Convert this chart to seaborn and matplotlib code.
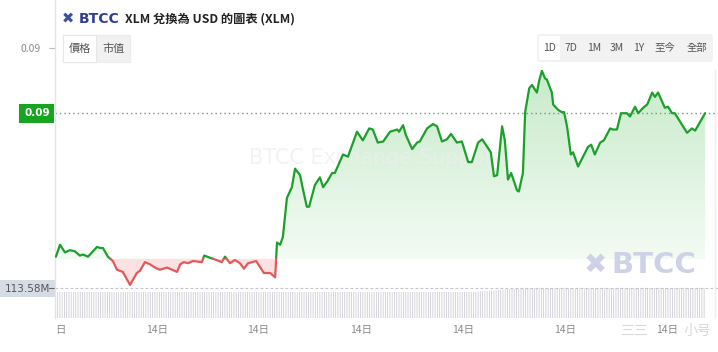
import numpy as np
import pandas as pd
import matplotlib
matplotlib.use("Agg")
import matplotlib.pyplot as plt
import seaborn as sns
from matplotlib.path import Path
from matplotlib.patches import FancyBboxPatch, Rectangle
import matplotlib.transforms as mtransforms
from matplotlib.colors import to_rgb

# ---------------- data ----------------
minutes = [2, 11, 22, 33, 44, 55, 62, 73, 84, 93, 100, 106, 117, 128, 137, 150, 166, 181, 188, 199,
           210, 221, 232, 248, 259, 270, 277, 285, 294, 305, 325, 330, 350, 369, 376, 387, 398, 409, 418, 427,
           445, 462, 476, 487, 491, 498, 504, 513, 524, 531, 542, 549, 557, 562, 575, 586, 593, 602, 613, 619,
           637, 648, 668, 681, 695, 703, 714, 726, 741, 757, 761, 770, 776, 790, 801, 807, 823, 836, 845, 856,
           867, 876, 889, 900, 914, 922, 936, 945, 953, 964, 971, 978, 989, 995, 1002, 1009, 1022, 1026, 1035, 1040,
           1049, 1055, 1066, 1071, 1077, 1084, 1088, 1099, 1102, 1113, 1121, 1126, 1133, 1141, 1146, 1157, 1168, 1179, 1186, 1194,
           1206, 1214, 1228, 1234, 1243, 1252, 1265, 1272, 1283, 1290, 1301, 1310, 1321, 1327, 1334, 1349, 1356, 1365, 1371, 1398,
           1409, 1416, 1427, 1438]
price = [0.08808, 0.08819, 0.08812, 0.08814, 0.08813, 0.08809, 0.08810, 0.08808, 0.08813, 0.08817,
         0.08816, 0.08816, 0.08808, 0.08804, 0.08796, 0.08794, 0.08782, 0.08793, 0.08795, 0.08803,
         0.08801, 0.08798, 0.08796, 0.08798, 0.08796, 0.08794, 0.08801, 0.08803, 0.08802, 0.08804,
         0.08803, 0.08809, 0.08806, 0.08803, 0.08808, 0.08802, 0.08805, 0.08802, 0.08797, 0.08802,
         0.08804, 0.08793, 0.08793, 0.08789, 0.08821, 0.08819, 0.08826, 0.08862, 0.08872, 0.08889,
         0.08883, 0.08869, 0.08854, 0.08854, 0.08874, 0.08881, 0.08872, 0.08877, 0.08885, 0.08885,
         0.08902, 0.08900, 0.08923, 0.08915, 0.08926, 0.08925, 0.08913, 0.08914, 0.08923, 0.08925,
         0.08923, 0.08929, 0.08920, 0.08907, 0.08913, 0.08914, 0.08926, 0.08930, 0.08928, 0.08914,
         0.08916, 0.08921, 0.08913, 0.08914, 0.08895, 0.08895, 0.08913, 0.08916, 0.08911, 0.08904,
         0.08882, 0.08883, 0.08928, 0.08915, 0.08879, 0.08885, 0.08869, 0.08868, 0.08885, 0.08941,
         0.08963, 0.08966, 0.08959, 0.08970, 0.08979, 0.08972, 0.08971, 0.08959, 0.08948, 0.08943,
         0.08941, 0.08941, 0.08927, 0.08902, 0.08904, 0.08891, 0.08900, 0.08909, 0.08911, 0.08902,
         0.08913, 0.08915, 0.08926, 0.08925, 0.08925, 0.08940, 0.08940, 0.08937, 0.08946, 0.08940,
         0.08945, 0.08948, 0.08959, 0.08955, 0.08959, 0.08945, 0.08946, 0.08940, 0.08940, 0.08922,
         0.08926, 0.08924, 0.08932, 0.08940]
open_price = 0.08806

volume_minutes = list(range(0, 1440, 5))
volume_m = [
    98.4, 98.4, 98.4, 98.4, 98.4, 98.4, 98.4, 98.4, 98.4, 98.4, 98.4, 98.4, 98.4, 98.4, 98.4, 98.4, 98.4, 98.4, 98.4, 98.4, 98.4, 98.4, 98.4, 98.4,
    98.4, 98.4, 98.4, 98.4, 98.4, 98.4, 98.4, 98.4, 98.4, 98.4, 98.4, 98.4, 98.4, 98.4, 98.4, 98.4, 98.4, 98.4, 98.4, 98.4, 98.4, 98.4, 98.4, 98.4,
    98.4, 98.4, 98.4, 98.4, 98.4, 98.4, 98.4, 98.4, 98.4, 98.4, 98.4, 98.4, 98.4, 98.4, 98.4, 98.4, 98.4, 98.4, 98.4, 98.4, 98.4, 98.4, 98.4, 98.4,
    98.4, 98.4, 98.4, 98.4, 98.4, 98.4, 98.4, 98.4, 98.4, 98.4, 98.4, 98.4, 98.4, 98.4, 98.4, 98.4, 98.4, 98.4, 98.4, 98.4, 98.4, 98.4, 98.4, 98.4,
    98.4, 98.4, 98.4, 98.4, 98.4, 98.4, 98.4, 98.4, 98.4, 98.4, 98.4, 98.4, 98.4, 98.4, 98.4, 98.4, 98.4, 98.4, 98.4, 98.4, 98.4, 98.4, 98.4, 98.4,
    98.4, 98.4, 98.4, 98.4, 98.4, 98.4, 98.4, 98.4, 98.4, 98.4, 98.4, 98.4, 98.4, 98.4, 98.4, 98.4, 98.4, 98.4, 98.4, 98.4, 98.4, 98.4, 98.4, 98.4,
    98.4, 98.4, 98.4, 98.4, 98.4, 98.4, 98.4, 98.4, 98.4, 98.4, 98.4, 98.4, 98.4, 98.4, 98.4, 98.4, 98.4, 98.4, 98.4, 98.4, 98.4, 98.4, 98.4, 98.4,
    98.4, 98.4, 98.4, 98.4, 98.4, 98.4, 98.4, 98.4, 98.4, 98.4, 98.4, 98.4, 98.4, 98.4, 98.4, 98.4, 98.6, 98.9, 99.3, 99.8, 100.4, 101.0, 101.7, 102.4,
    103.1, 103.9, 104.7, 105.5, 106.3, 107.0, 107.8, 108.5, 109.1, 109.7, 110.2, 110.6, 111.0, 111.3, 111.5, 111.7, 111.8, 111.9, 112.0, 112.0, 112.1, 112.1, 112.2, 112.2,
    112.2, 112.3, 112.3, 112.3, 112.4, 112.4, 112.4, 112.5, 112.5, 112.5, 112.6, 112.6, 112.6, 112.7, 112.7, 112.7, 112.8, 112.8, 112.8, 112.8, 112.9, 112.9, 112.9, 112.9,
    113.0, 113.0, 113.0, 113.0, 113.1, 113.1, 113.1, 113.1, 113.2, 113.2, 113.2, 113.2, 113.2, 113.3, 113.3, 113.3, 113.3, 113.3, 113.4, 113.4, 113.4, 113.4, 113.4, 113.4,
    113.4, 113.5, 113.5, 113.5, 113.5, 113.5, 113.5, 113.5, 113.5, 113.5, 113.5, 113.6, 113.6, 113.6, 113.6, 113.6, 113.6, 113.6, 113.6, 113.6, 113.6, 113.6, 113.6, 113.58,
]

tick_minutes = [11, 226, 449, 677, 903, 1128, 1354]
tick_labels = ["日", "14日", "14日", "14日", "14日", "14日", "14日"]
yaxis_tick = 0.09
yaxis_tick_label = "0.09"
last_price_label = "0.09"
last_volume_label = "113.58M"
title_text = "XLM 兌換為 USD 的圖表 (XLM)"
range_buttons = ["1D", "7D", "1M", "3M", "1Y", "至今", "全部"]
mode_buttons = ["價格", "市值"]

# ---------------- style ----------------
sns.set_style("white")
FONT = ['Noto Sans CJK TC', 'DejaVu Sans']
plt.rcParams['font.family'] = FONT

GREEN = "#1c9f2b"
RED = "#e05a5a"
W, H = 718, 352

fig = plt.figure(figsize=(W / 100, H / 100), dpi=100)
fig.patch.set_facecolor("white")


def fx(x):
    return x / W


def fy(y):
    return 1 - y / H


ax_left, ax_right, ax_top, ax_bottom = 55, 718, 0, 318
ax = fig.add_axes([fx(ax_left), fy(ax_bottom), fx(ax_right - ax_left), (ax_bottom - ax_top) / H])
ax2 = ax.twinx()
ax.set_zorder(2)
ax2.set_zorder(1)
ax.patch.set_visible(False)

min_per_px = 1440 / 651
xmax = (ax_right - ax_left) * min_per_px
ylo, yhi = 0.087516, 0.0904416

# ---------------- volume ----------------
bars = ax2.bar(volume_minutes, volume_m, width=1.7, color="#c9c9d2", align="edge", linewidth=0)
for b in bars:
    b.set_snap(False)
vol_top = 113.58 / 30 * 318
ax2.set_ylim(0, vol_top)
ax2.axhline(volume_m[-1], color="#c4c4c4", lw=0.8, ls=(0, (2.5, 2)))
ax2.set_yticks([])
for s in ax2.spines.values():
    s.set_visible(False)

# ---------------- price line (split at open price) ----------------
t = np.array(minutes, float)
p = np.array(price, float)
rows = []
seg = 0
above = p[0] >= open_price
rows.append((t[0], p[0], seg, "up" if above else "down"))
for i in range(1, len(t)):
    a = p[i] >= open_price
    if a != above:
        f = (open_price - p[i - 1]) / (p[i] - p[i - 1])
        tc = t[i - 1] + f * (t[i] - t[i - 1])
        rows.append((tc, open_price, seg, "up" if above else "down"))
        seg += 1
        above = a
        rows.append((tc, open_price, seg, "up" if above else "down"))
    rows.append((t[i], p[i], seg, "up" if above else "down"))
df = pd.DataFrame(rows, columns=["t", "p", "seg", "trend"])

# red fill
ax.fill_between(t, p, open_price, where=p <= open_price, interpolate=True,
                color="#fbe1e1", lw=0, zorder=1)
# green gradient fill
fb = ax.fill_between(t, p, open_price, where=p >= open_price, interpolate=True,
                     color="none", lw=0)
clip = Path.make_compound_path(*fb.get_paths())
fb.remove()
c_top = np.array(to_rgb("#c6eac9"))
c_bot = np.array(to_rgb("#f3fbf3"))
n = 256
frac = np.linspace(0, 1, n)[:, None]
grad = (c_bot * (1 - frac) + c_top * frac)[:, None, :]
im = ax.imshow(grad, extent=[0, xmax, open_price, 0.08985], origin="lower",
               aspect="auto", zorder=1, interpolation="bilinear")
im.set_clip_path(clip, ax.transData)

# watermark text
ax.text((375 - ax_left) / (ax_right - ax_left), (ax_bottom - 158) / (ax_bottom - ax_top),
        "BTCC Exchange Support", transform=ax.transAxes, ha="center", va="center",
        fontsize=15, color="#eeeeee", family="DejaVu Sans", zorder=1.5, alpha=0.7)

sns.lineplot(data=df, x="t", y="p", hue="trend", units="seg", estimator=None, sort=False,
             palette={"up": GREEN, "down": RED}, lw=1.6, legend=False, ax=ax, zorder=3)

ax.axhline(p[-1], color="#6f9a80", lw=1.0, ls=(0, (1, 2.2)), zorder=2)

ax.set_xlim(0, xmax)
ax.set_ylim(ylo, yhi)
ax2.set_xlim(0, xmax)
ax.set_xlabel("")
ax.set_ylabel("")
ax.set_xticks(tick_minutes)
ax.set_xticklabels(tick_labels)
ax.tick_params(axis="x", length=0, pad=5, labelsize=7.5, labelcolor="#8a8a8a")
ax.set_yticks([yaxis_tick])
ax.set_yticklabels([yaxis_tick_label])
ax.tick_params(axis="y", length=4, width=0.8, color="#bbbbbb", pad=6, labelsize=7.5,
               labelcolor="#8a8a8a")
for name, s in ax.spines.items():
    s.set_visible(name == "left")
ax.spines["left"].set_color("#e4e4e4")
ax.spines["left"].set_linewidth(1.0)

# right border line
fig.add_artist(plt.Line2D([fx(715), fx(715)], [fy(70), fy(318)], color="#eeeeee", lw=1))

# last price label (green box)
blend = mtransforms.blended_transform_factory(ax.transAxes, ax.transData)
ax.text(-0.008, p[-1], last_price_label, transform=blend, ha="right", va="center",
        fontsize=7.5, color="white", fontweight="bold", family="DejaVu Sans",
        bbox=dict(boxstyle="square,pad=0.45", fc="#17a520", ec="none"), zorder=5, clip_on=False)

# volume label
fig.add_artist(Rectangle((0, fy(297)), fx(55), (297 - 280) / H, transform=fig.transFigure,
                         fc="#d6dce6", ec="none"))
fig.text(fx(5), fy(288.5), last_volume_label, ha="left", va="center", fontsize=7.5,
         color="#555555", family="DejaVu Sans")
fig.add_artist(plt.Line2D([fx(49), fx(54)], [fy(288), fy(288)], color="#666666", lw=0.8))

# ---------------- title ----------------
fig.text(fx(62), fy(19), "✖", ha="left", va="center", fontsize=10.5, color="#3d4fa3",
         family="DejaVu Sans")
fig.text(fx(79), fy(19), "BTCC", ha="left", va="center", fontsize=10, color="#2f3f93",
         fontweight="bold", family="DejaVu Sans")
fig.text(fx(125), fy(19), title_text, ha="left", va="center", fontsize=8.8, color="#222222",
         fontweight="bold")

# mode buttons
fig.add_artist(Rectangle((fx(63), fy(62)), fx(67), 27 / H, transform=fig.transFigure,
                         fc="#f1f1f1", ec="#ececec", lw=0.8))
fig.add_artist(Rectangle((fx(63), fy(62)), fx(33), 27 / H, transform=fig.transFigure,
                         fc="white", ec="#e6e6e6", lw=0.8))
fig.text(fx(79.5), fy(49), mode_buttons[0], ha="center", va="center", fontsize=8, color="#555555")
fig.text(fx(113), fy(49), mode_buttons[1], ha="center", va="center", fontsize=8, color="#555555")

# range buttons
fig.add_artist(FancyBboxPatch((fx(537), fy(62)), fx(176), 28 / H, transform=fig.transFigure,
                              boxstyle="round,pad=0,rounding_size=0.006", fc="#f2f2f2", ec="none"))
fig.add_artist(Rectangle((fx(539), fy(60)), fx(21), 24 / H, transform=fig.transFigure,
                         fc="white", ec="none"))
btn_x = [550, 571, 594, 617, 639, 665, 697]
for bx, lab in zip(btn_x, range_buttons):
    fig.text(fx(bx), fy(48), lab, ha="center", va="center", fontsize=7.5, color="#555555")

# BTCC watermark bottom right
fig.text(fx(584), fy(265), "✖", ha="left", va="center", fontsize=20, color="#cfd2e6",
         family="DejaVu Sans")
fig.text(fx(611), fy(265), "BTCC", ha="left", va="center", fontsize=21, color="#cfd2e6",
         fontweight="bold", family="DejaVu Sans")

# bottom-right watermark
fig.text(fx(620), fy(331), "三三", ha="left", va="center", fontsize=10, color="#d8d8d8")
fig.text(fx(683), fy(331), "小号", ha="left", va="center", fontsize=10, color="#d8d8d8")

fig.savefig("out.png", dpi=100, facecolor="white")
